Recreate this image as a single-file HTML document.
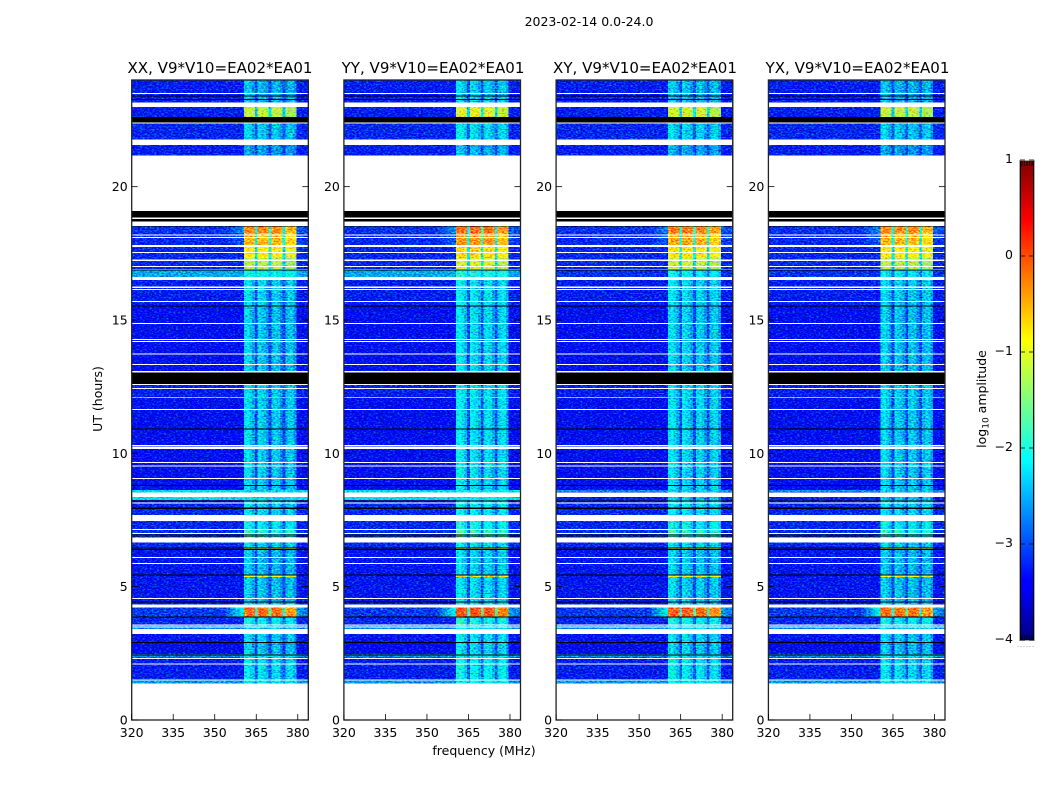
<!DOCTYPE html>
<html lang="en">
<head>
<meta charset="utf-8">
<title>2023-02-14 waterfall amplitude</title>
<style>
html,body{margin:0;padding:0;background:#fff;width:1050px;height:800px;overflow:hidden}
svg{display:block}
text{font-family:"DejaVu Sans","Liberation Sans",sans-serif;fill:#000}
.tick{font-size:12.5px}
.ttl{font-size:15.05px;text-anchor:middle}
.lab{font-size:12.5px;text-anchor:middle}
</style>
</head>
<body>
<svg id="fig" xmlns="http://www.w3.org/2000/svg" width="1050" height="800" viewBox="0 0 1050 800">
  <defs>
    <filter id="speckle" x="0" y="0" width="100%" height="100%" color-interpolation-filters="sRGB">
      <feTurbulence type="fractalNoise" baseFrequency="0.42 0.75" numOctaves="2" seed="7" result="n"/>
      <feColorMatrix in="n" type="matrix" values="0 0 0 0 0.5  1 0 0 0 0  0 1 0 0 0  0 0 0 0 1" result="m"/>
      <feComposite in="SourceGraphic" in2="m" operator="arithmetic" k1="0" k2="1" k3="1.5" k4="-0.75"/>
    </filter>
    <linearGradient id="jet-gradient" x1="0" y1="1" x2="0" y2="0">
      <stop offset="0" stop-color="#00007f"/>
      <stop offset="0.11" stop-color="#0000ff"/>
      <stop offset="0.125" stop-color="#0000ff"/>
      <stop offset="0.375" stop-color="#00ffff"/>
      <stop offset="0.625" stop-color="#ffff00"/>
      <stop offset="0.875" stop-color="#ff0000"/>
      <stop offset="1" stop-color="#7f0000"/>
    </linearGradient>
  </defs>

  <text class="lab" x="589" y="26">2023-02-14 0.0-24.0</text>
  <text class="ttl" x="220" y="73">XX, V9*V10=EA02*EA01</text>
  <text class="ttl" x="433" y="73">YY, V9*V10=EA02*EA01</text>
  <text class="ttl" x="645" y="73">XY, V9*V10=EA02*EA01</text>
  <text class="ttl" x="857.500" y="73">YX, V9*V10=EA02*EA01</text>
  <text class="lab" x="484" y="755">frequency (MHz)</text>
  <text class="lab" transform="translate(102,399) rotate(-90)">UT (hours)</text>
  <text class="lab" transform="translate(986,399) rotate(-90)">log<tspan font-size="9" dy="2.5">10</tspan><tspan dy="-2.5"> amplitude</tspan></text>

  <g id="panels"></g>

  <g id="colorbar">
    <rect x="1020" y="160.5" width="14" height="479.5" fill="url(#jet-gradient)"/>
    <rect x="1019.5" y="160.5" width="15" height="480" fill="none" stroke="#aaa" stroke-width="1"/>
    <path d="M1020.5 161V640M1033.5 161V640" stroke="#000" stroke-width="1" fill="none"/>
    <path d="M1022 161v5M1024.500 161v5M1027 161v5M1029.500 161v5M1032 161v5" stroke="#000" stroke-width="0.8" fill="none"/>
    <path d="M1022 635v5M1024.500 635v5M1027 635v5M1029.500 635v5M1032 635v5" stroke="#000" stroke-width="0.8" fill="none"/>
    <path d="M1017.500 646.500H1035" stroke="#aaa" stroke-width="1" stroke-dasharray="1 2" fill="none"/>
  </g>
</svg>

<script>
// ---- chart data, in data units ----
var polarizations = ['xx', 'yy', 'xy', 'yx'];
var panelLeftEdges = [131.7, 343.9, 556.1, 768.4];
var freqTicks = [320, 335, 350, 365, 380];
var utTicks = [0, 5, 10, 15, 20];
var colorbarTicks = [-4, -3, -2, -1, 0, 1];
var colorbarTickLabels = ['\u22124', '\u22123', '\u22122', '\u22121', '0', '1'];

// [startUT, endUT, background log10 amp, band log10 amp, wing log10 amp (0 = none), extra log10 on XX/YY]
var dataSegments = [
  [23.17, 24.00, -3.25, -2.35, 0, 0],
  [22.61, 22.99, -3.25, -1.15, 0, 0],
  [21.76, 22.36, -3.20, -2.25, 0, 0],
  [21.17, 21.56, -3.25, -2.50, 0, 0],
  [18.26, 18.52, -3.15, -0.28, -2.7, 0],
  [17.81, 18.26, -3.20, -0.50, -2.95, 0],
  [17.33, 17.81, -3.20, -0.80, 0, 0],
  [16.90, 17.33, -3.20, -1.20, 0, 0],
  [16.60, 16.90, -3.15, -2.00, 0, 0.6],
  [15.53, 16.60, -3.25, -2.20, 0, 0],
  [13.05, 15.53, -3.35, -2.25, 0, 0],
  [12.11, 12.60, -3.25, -2.20, 0, 0],
  [12.07, 12.11, -1.90, -1.90, 0, 0],
  [8.63, 12.07, -3.35, -2.20, 0, 0],
  [8.55, 8.63, -2.70, -2.30, 0, 0.4],
  [8.25, 8.55, -3.25, -2.30, 0, 0.95],
  [7.69, 8.25, -3.20, -2.15, 0, 0],
  [7.15, 7.47, -3.20, -2.00, 0, 0],
  [6.85, 7.15, -3.15, -1.70, 0, 0],
  [6.45, 6.65, -3.20, -2.20, 0, 0],
  [6.39, 6.44, -3.20, -0.75, 0, 0],
  [5.44, 6.39, -3.30, -2.30, 0, 0],
  [5.36, 5.42, -3.30, -0.85, 0, 0],
  [4.35, 5.36, -3.30, -2.25, 0, 0],
  [3.88, 4.23, -3.10, -0.15, -2.15, 0],
  [3.56, 3.88, -3.20, -1.95, 0, 0],
  [3.41, 3.56, -2.70, -2.30, 0, 0],
  [2.93, 3.23, -3.30, -2.20, 0, 0],
  [2.47, 2.93, -3.40, -2.25, 0, 0],
  [2.35, 2.47, -2.70, -2.20, 0, 0],
  [1.50, 2.35, -3.25, -2.10, 0, 0],
  [1.37, 1.50, -2.65, -2.15, 0, 0]
];

// [startUT, endUT] of rows with no plotted data (white)
var flaggedSpans = [
  [23.47, 23.51], [22.99, 23.15], [22.36, 22.40], [21.56, 21.76], [19.09, 21.17],
  [18.78, 18.84], [18.52, 18.69], [18.16, 18.20], [18.08, 18.11], [17.74, 17.81],
  [17.51, 17.55], [17.21, 17.26], [16.98, 17.03], [16.89, 16.92], [16.50, 16.62],
  [16.20, 16.25], [16.12, 16.16], [15.67, 15.71], [14.85, 14.89], [14.25, 14.29],
  [14.17, 14.21], [13.71, 13.74], [13.31, 13.35], [13.04, 13.09], [12.56, 12.60],
  [12.41, 12.45], [11.63, 11.67], [10.27, 10.31], [10.22, 10.26], [10.17, 10.21],
  [9.64, 9.68], [9.51, 9.55], [9.04, 9.08], [8.36, 8.54], [8.12, 8.16],
  [7.47, 7.69], [7.13, 7.17], [6.98, 7.02], [6.65, 6.84], [6.08, 6.12],
  [5.85, 5.89], [4.54, 4.58], [4.22, 4.34], [3.54, 3.58], [3.47, 3.51],
  [3.23, 3.41], [2.29, 2.33], [2.08, 2.12], [1.48, 1.52], [0, 1.37]
];

// [startUT, endUT] of rows drawn black (zero amplitude)
var zeroSpans = [
  [23.39, 23.41], [23.25, 23.29], [22.40, 22.61], [18.84, 19.09], [18.69, 18.78],
  [18.50, 18.53], [16.86, 16.90], [15.50, 15.54], [12.60, 13.04], [10.89, 10.93],
  [8.78, 8.82], [8.20, 8.24], [7.92, 7.96], [6.92, 6.96], [6.86, 6.89],
  [6.44, 6.47], [6.37, 6.41], [5.42, 5.46], [4.40, 4.44], [3.84, 3.88],
  [2.89, 2.93], [2.41, 2.45]
];

// channel shape; each channel is 1 MHz wide, centred on the MHz value
var bandFirstChannel = 361;
var weakChannelGain = [0.92, 1.00, 0.85, 0.68, 0.28, 0.95, 0.85, 0.80, 0.65, 0.28, 0.80, 0.88, 0.80, 0.60, 0.30, 0.75, 0.85, 0.85, 0.62];
var strongChannelGain = [0.97, 1.00, 1.00, 0.98, 0.42, 1.00, 1.00, 0.99, 0.97, 0.48, 0.98, 1.00, 0.99, 0.96, 0.42, 0.91, 0.93, 0.93, 0.90];
var strongBandThreshold = -1.6;
var wingFirstChannel = 354;
var wingChannelGain = [0.10, 0.25, 0.40, 0.55, 0.70, 0.85, 1.00];
var tailFirstChannel = 380;
var tailChannelGain = [0.55, 0.45, 0.40, 0.35, 0.30];
var panelBandOffset = [0, 0.15, 0.06, 0.0];
var firstChannel = 320;
var lastChannel = 384;

// ---- axes ----
var panelWidth = 176.6;
var axisTop = 80;
var axisBottom = 720;
var freqMin = 320;
var freqMax = 383.8;
var utMax = 24;
var cbTop = 160;
var cbBottom = 640;
var cbMin = -4;
var cbMax = 1;
var NS = 'http://www.w3.org/2000/svg';

function xScale(left, f) { return left + (f - freqMin) / (freqMax - freqMin) * panelWidth; }
function yScale(ut) { return axisBottom - ut / utMax * (axisBottom - axisTop); }
function cbScale(v) { return cbBottom - (v - cbMin) / (cbMax - cbMin) * (cbBottom - cbTop); }

function jet(logAmp) {
  var v = Math.max(0, Math.min(1, (logAmp - cbMin) / (cbMax - cbMin)));
  function ch(t) { return Math.round(255 * Math.max(0, Math.min(1, t))); }
  var r = Math.min(4 * v - 1.5, -4 * v + 4.5);
  var g = Math.min(4 * v - 0.5, -4 * v + 3.5);
  var b = Math.min(4 * v + 0.5, -4 * v + 2.5);
  return 'rgb(' + ch(r) + ',' + ch(g) + ',' + ch(b) + ')';
}

function cellValue(seg, ch, p) {
  var bg = seg[2] + (p < 2 ? seg[5] : 0);
  var band = seg[3] + panelBandOffset[p];
  var i = ch - bandFirstChannel;
  var gains = seg[3] > strongBandThreshold ? strongChannelGain : weakChannelGain;
  if (i >= 0 && i < gains.length) {
    return bg + (Math.max(band, bg) - bg) * gains[i];
  }
  if (seg[4] !== 0) {
    var w = ch - wingFirstChannel;
    if (w >= 0 && w < wingChannelGain.length) return bg + (seg[4] - bg) * wingChannelGain[w];
    var t = ch - tailFirstChannel;
    if (t >= 0 && t < tailChannelGain.length) return bg + (seg[4] - bg) * tailChannelGain[t];
  }
  return bg;
}

function make(tag, parent, attrs) {
  var e = document.createElementNS(NS, tag);
  for (var k in attrs) e.setAttribute(k, attrs[k]);
  parent.appendChild(e);
  return e;
}

var panelsRoot = document.getElementById('panels');

polarizations.forEach(function (pol, p) {
  var left = panelLeftEdges[p];
  var right = left + panelWidth;
  var g = make('g', panelsRoot, {});
  
  

  var heat = make('g', g, { filter: 'url(#speckle)', 'shape-rendering': 'crispEdges' });
  
  

  dataSegments.forEach(function (seg) {
    var y0 = yScale(seg[1]);
    var y1 = yScale(seg[0]);
    for (var ch = firstChannel; ch <= lastChannel; ch++) {
      var x0 = Math.max(left, xScale(left, ch - 0.5));
      var x1 = Math.min(right, xScale(left, ch + 0.5));
      var cell = make('rect', heat, { x: x0.toFixed(2), y: y0.toFixed(2), width: (x1 - x0 + 0.4).toFixed(2), height: (y1 - y0 + 0.4).toFixed(2), fill: jet(cellValue(seg, ch, p)) });
      
      
    }
  });

  var rows = make('g', g, { 'shape-rendering': 'crispEdges' });
  
  

  flaggedSpans.forEach(function (s) {
    var r = make('rect', rows, { x: left, y: yScale(s[1]).toFixed(2), width: panelWidth, height: (yScale(s[0]) - yScale(s[1])).toFixed(2), fill: '#fff' });
    
    
  });
  zeroSpans.forEach(function (s) {
    var r = make('rect', rows, { x: left, y: yScale(s[1]).toFixed(2), width: panelWidth, height: (yScale(s[0]) - yScale(s[1])).toFixed(2), fill: '#000' });
    
    
  });

  var frame = make('rect', g, { x: left, y: axisTop, width: panelWidth, height: axisBottom - axisTop, fill: 'none', stroke: '#222', 'stroke-width': 1.3 });
  
  

  freqTicks.forEach(function (f) {
    var x = xScale(left, f);
    var t = make('line', g, { x1: x, x2: x, y1: axisBottom, y2: axisBottom - 6, stroke: '#000', 'stroke-width': 0.8 });
    
    
    var l = make('text', g, { x: x, y: axisBottom + 17, 'text-anchor': 'middle', 'class': 'tick' });
    l.textContent = String(f);
    
    
  });

  utTicks.forEach(function (u) {
    var y = yScale(u);
    var a = make('line', g, { x1: left, x2: left + 6, y1: y, y2: y, stroke: '#000', 'stroke-width': 0.8 });
    
    
    var b = make('line', g, { x1: right, x2: right - 6, y1: y, y2: y, stroke: '#000', 'stroke-width': 0.8 });
    
    
    var l = make('text', g, { x: left - 4, y: y + 4.5, 'text-anchor': 'end', 'class': 'tick' });
    l.textContent = String(u);
    
    
  });
});

var cbRoot = document.getElementById('colorbar');
colorbarTicks.forEach(function (v, i) {
  var y = cbScale(v);
  var a = make('line', cbRoot, { x1: 1020, x2: 1025, y1: y, y2: y, stroke: '#000', 'stroke-width': 0.8 });
  
  
  var b = make('line', cbRoot, { x1: 1029, x2: 1034, y1: y, y2: y, stroke: '#000', 'stroke-width': 0.8 });
  
  
  var l = make('text', cbRoot, { x: 1013, y: y + 3, 'text-anchor': 'end', 'class': 'tick' });
  l.textContent = colorbarTickLabels[i];
  
  
});
</script>
</body>
</html>
